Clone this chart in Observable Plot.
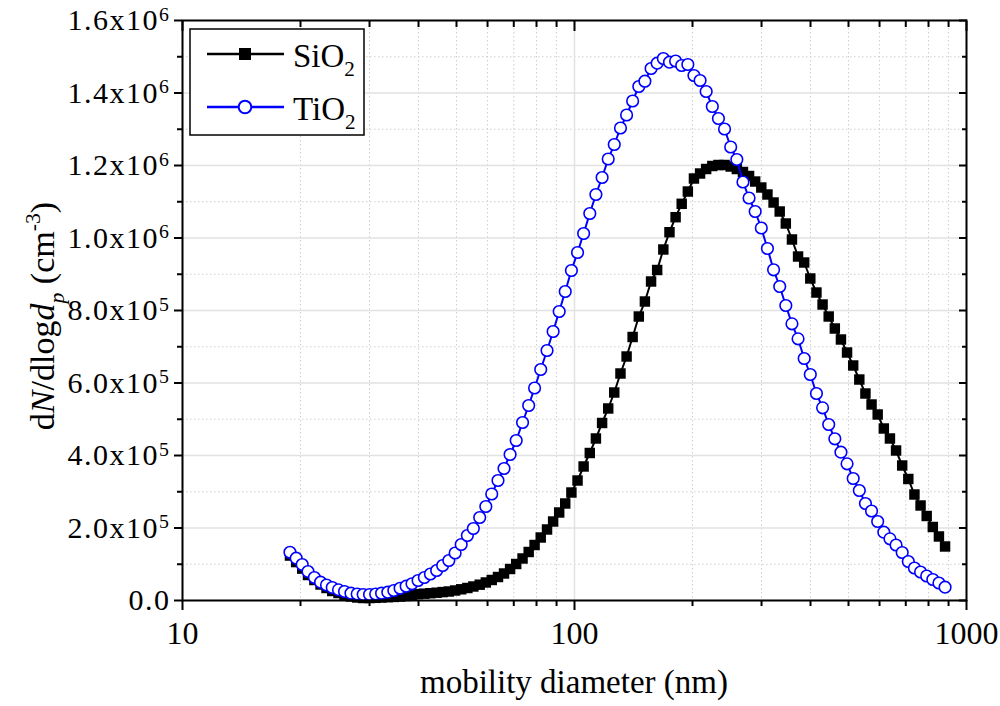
<!DOCTYPE html>
<html>
<head>
<meta charset="utf-8">
<script src="https://cdn.jsdelivr.net/npm/d3@7"></script>
<script src="https://cdn.jsdelivr.net/npm/@observablehq/plot@0.6"></script>
<style>
  html, body { margin: 0; padding: 0; background: #fff; }
  #chart svg { display: block; }
</style>
</head>
<body>
<div id="chart"></div>
<script>
// ---- data ----
const diameters = [18.8,19.5,20.2,20.9,21.7,22.5,23.3,24.1,25.0,25.9,26.9,27.9,28.9,30.0,31.1,32.2,33.4,34.6,35.9,37.2,38.5,39.9,41.4,42.9,44.5,46.1,47.8,49.6,51.4,53.3,55.2,57.3,59.4,61.5,63.8,66.1,68.5,71.0,73.7,76.4,79.1,82.0,85.1,88.2,91.4,94.7,98.2,101.8,105.5,109.4,113.4,117.6,121.9,126.3,131.0,135.8,140.7,145.9,151.2,156.8,162.5,168.5,174.7,181.1,187.7,194.6,201.7,209.1,216.7,224.7,232.9,241.4,250.3,259.5,269.0,278.8,289.0,299.6,310.6,322.0,333.8,346.0,358.7,371.8,385.4,399.5,414.2,429.4,445.1,461.4,478.3,495.8,514.0,532.8,552.3,572.5,593.5,615.3,637.8,661.2,685.4,710.5,736.5,763.5,791.5,820.5,850.5,881.7];

const sio2 = [124000,106000,88000,70300,56500,44100,34500,26200,20700,15200,
  11000,8300,6900,6900,7400,8300,9100,9900,11000,12400,
  14600,17500,18800,20100,21500,23200,24800,27600,30900,34500,
  38600,43600,49700,56600,64800,74500,86900,100700,115900,133800,
  153100,173800,195900,217900,242800,267600,297900,331000,369700,406900,
  446900,489700,529700,573800,626200,673100,726900,783400,824800,880000,
  911700,968300,1016000,1057400,1094300,1128200,1164100,1177900,1190300,1198600,
  1201400,1201400,1197200,1190300,1182000,1171000,1155800,1139300,1120000,1097900,
  1073100,1040000,995900,948900,932400,888300,849600,816500,783400,750300,
  720000,684100,648300,609600,571000,540700,513100,474500,446900,413800,
  372400,335200,292400,262100,233100,202800,176600,149000];

const tio2 = [133000,116700,99300,80000,63400,50500,42800,35900,29500,24800,
  20100,17900,16600,16600,17900,20100,22900,27600,33700,39400,
  46100,55200,63400,73100,82800,96600,110300,131000,154500,179300,
  198600,229000,259300,293800,331000,364100,402800,441400,491000,537900,
  586200,637200,689700,742100,797200,852400,910300,960000,1012400,1067600,
  1120000,1166900,1217900,1257900,1303400,1339300,1377900,1417900,1432500,1467600,
  1482200,1495200,1485000,1488200,1475800,1478600,1448300,1434500,1404100,1362700,
  1329600,1300700,1251000,1216500,1154500,1110300,1073100,1027600,971000,912300,
  866200,813800,763300,721900,667600,623400,571000,531600,485500,446100,
  409100,377100,336500,303400,267600,246900,217900,188400,170200,153100,
  132400,107600,89700,78600,67600,57900,48300,36700];

const seriesNames = ["SiO_2", "TiO_2"];
const seriesColors = ["#000000", "#0000ff"];

const xTicks = [10, 100, 1000];
const xTickLabels = ["10", "100", "1000"];
const xMinorTicks = [20,30,40,50,60,70,80,90,200,300,400,500,600,700,800,900];
const yTicks = [0, 200000, 400000, 600000, 800000, 1000000, 1200000, 1400000, 1600000];
const yTickLabels = ["0.0","2.0x10^5","4.0x10^5","6.0x10^5","8.0x10^5","1.0x10^6","1.2x10^6","1.4x10^6","1.6x10^6"];
const yMinorTicks = [100000,300000,500000,700000,900000,1100000,1300000,1500000];

const xTitle = "mobility diameter (nm)";
// y title pieces: [text, style]  (i = italic, sub = subscript, sup = superscript)
const yTitleParts = [["d",""],["N","i"],["/dlog",""],["d","i"],["p","i sub"],[" (cm",""],["-3","sup"],[")",""]];

// ---- build tables ----
const sioRows = diameters.map((d, i) => ({d, v: sio2[i]}));
const tioRows = diameters.map((d, i) => ({d, v: tio2[i]}));
const xLabelMap = new Map(xTicks.map((t, i) => [t, xTickLabels[i]]));
const yLabelMap = new Map(yTicks.map((t, i) => [t, yTickLabels[i]]));

const FONT = '"Liberation Serif", Tinos, "DejaVu Serif", "Noto Serif", "Times New Roman", serif';
const minorGrid = {stroke: "#cfcfcf", strokeOpacity: 1, strokeWidth: 1, strokeDasharray: "1.5,2.5"};
const majorGrid = {stroke: "#e2e2e2", strokeOpacity: 1, strokeWidth: 1.5};
const blank = () => "";

const plot = Plot.plot({
  width: 1000,
  height: 706,
  marginLeft: 182,
  marginRight: 34,
  marginTop: 20,
  marginBottom: 106,
  style: {background: "#fff", overflow: "visible", fontFamily: FONT},
  x: {type: "log", domain: [10, 1000]},
  y: {domain: [0, 1600000]},
  marks: [
    Plot.gridX(xMinorTicks, minorGrid),
    Plot.gridY(yMinorTicks, minorGrid),
    Plot.gridX(xTicks, majorGrid),
    Plot.gridY(yTicks, majorGrid),
    Plot.line(sioRows, {x: "d", y: "v", stroke: seriesColors[0], strokeWidth: 2}),
    Plot.dot(sioRows, {x: "d", y: "v", symbol: "square", fill: seriesColors[0], r: 5.9}),
    Plot.line(tioRows, {x: "d", y: "v", stroke: seriesColors[1], strokeWidth: 2}),
    Plot.dot(tioRows, {x: "d", y: "v", r: 5.8, fill: "#fff", stroke: seriesColors[1], strokeWidth: 1.6}),
    Plot.frame({stroke: "#000", strokeWidth: 2}),
    Plot.axisY(yTicks, {anchor: "left", tickSize: 8, tickPadding: 4, strokeWidth: 2, fontSize: 30, fontFamily: FONT, tickFormat: d => yLabelMap.get(d), label: null}),
    Plot.axisY(yMinorTicks, {anchor: "left", tickSize: 5, strokeWidth: 2, tickFormat: blank, label: null}),
    Plot.axisY(yTicks, {anchor: "right", tickSize: 8, dx: -8, strokeWidth: 2, tickFormat: blank, label: null}),
    Plot.axisY(yMinorTicks, {anchor: "right", tickSize: 5, dx: -5, strokeWidth: 2, tickFormat: blank, label: null}),
    Plot.axisX(xTicks, {anchor: "bottom", tickSize: 10, tickPadding: 11, strokeWidth: 2, fontSize: 32, fontFamily: FONT, tickFormat: d => xLabelMap.get(d), label: null}),
    Plot.axisX(xMinorTicks, {anchor: "bottom", tickSize: 6, strokeWidth: 2, tickFormat: blank, label: null}),
    Plot.axisX(xTicks, {anchor: "top", tickSize: 10, dy: 10, strokeWidth: 2, tickFormat: blank, label: null}),
    Plot.axisX(xMinorTicks, {anchor: "top", tickSize: 6, dy: 6, strokeWidth: 2, tickFormat: blank, label: null})
  ]
});

document.getElementById("chart").appendChild(plot);

// ---- post-processing: superscripts, titles, legend ----
const svg = d3.select(plot);
const xr = plot.scale("x").range;  // [left, right]
const yr = plot.scale("y").range;  // [bottom, top]
const fL = Math.min(...xr), fR = Math.max(...xr);
const fT = Math.min(...yr), fB = Math.max(...yr);

svg.selectAll('g[aria-label="y-axis tick label"] text').each(function() {
  const s = this.textContent;
  const k = s.indexOf("^");
  const t = d3.select(this).style("letter-spacing", "1.5px");
  if (k < 0) return;
  t.text(null);
  t.append("tspan").text(s.slice(0, k));
  t.append("tspan").attr("dy", "-0.48em").style("font-size", "66%").text(s.slice(k + 1));
});

// x title
svg.append("text")
  .attr("x", (fL + fR) / 2)
  .attr("y", fB + 93)
  .attr("text-anchor", "middle")
  .style("font-size", "33px")
  .attr("fill", "#000")
  .text(xTitle);

// y title (rotated)
const yt = svg.append("text")
  .attr("transform", `translate(${fL - 128},${(fT + fB) / 2 + 6}) rotate(-90)`)
  .attr("text-anchor", "middle")
  .style("font-size", "34px")
  .attr("fill", "#000");
let shift = 0;
for (const [txt, st] of yTitleParts) {
  const ts = yt.append("tspan").text(txt);
  if (st.includes("i")) ts.style("font-style", "italic");
  let want = 0;
  if (st.includes("sub")) want = 0.3;
  if (st.includes("sup")) want = -0.42;
  const small = st.includes("sub") || st.includes("sup");
  if (small) ts.style("font-size", "64%");
  const dyPx = (want - shift) * 34;
  if (dyPx !== 0) ts.attr("dy", dyPx + "px");
  shift = want;
}

// legend
const lg = svg.append("g").attr("aria-label", "legend");
const lx = fL + 8, ly = fT + 9;
lg.append("rect").attr("x", lx).attr("y", ly).attr("width", 174).attr("height", 106)
  .attr("fill", "#fff").attr("stroke", "#000").attr("stroke-width", 1.5);
seriesNames.forEach((name, i) => {
  const cy = ly + 25 + i * 53;
  lg.append("line").attr("x1", lx + 17).attr("x2", lx + 94).attr("y1", cy).attr("y2", cy)
    .attr("stroke", seriesColors[i]).attr("stroke-width", 2.5);
  if (i === 0) {
    lg.append("rect").attr("x", lx + 55 - 6).attr("y", cy - 6).attr("width", 12).attr("height", 12)
      .attr("fill", seriesColors[i]);
  } else {
    lg.append("circle").attr("cx", lx + 55).attr("cy", cy).attr("r", 6.3)
      .attr("fill", "#fff").attr("stroke", seriesColors[i]).attr("stroke-width", 2);
  }
  const [base, sub] = name.split("_");
  const t = lg.append("text").attr("x", lx + 103).attr("y", cy + 13)
    .attr("text-anchor", "start")
    .style("font-size", "33px").attr("fill", "#000");
  t.append("tspan").text(base);
  t.append("tspan").attr("dy", "9px").style("font-size", "64%").text(sub);
});

svg.selectAll("text, tspan").style("font-family", FONT);
</script>
</body>
</html>
